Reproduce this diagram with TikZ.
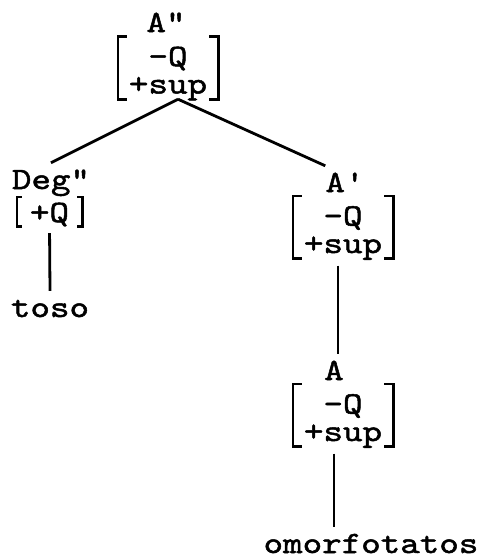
\documentclass[tikz,border=0pt]{standalone}
\usepackage{fontspec}
\setmonofont{lmmono10-regular.otf}[FakeStretch=1.2,FakeBold=1.6]

\tikzset{
  cat/.style={font=\ttfamily\fontsize{31}{27.5}\selectfont, inner sep=0pt, anchor=base, text height=26pt},
  feat/.style={cat, minimum width=100pt, text height=29.5pt, text depth=33pt},
  featsm/.style={cat, minimum width=65pt, text height=25pt, text depth=4pt},
  branch/.style={line width=2.8pt},
  brk/.style={line width=2.6pt}
}
% square brackets round a feature node
\newcommand{\sqbrk}[2][9pt]{
\draw[brk] ([xshift=#1]#2.north west) -- (#2.north west) -- (#2.south west) -- ([xshift=#1]#2.south west);
\draw[brk] ([xshift=-#1]#2.north east) -- (#2.north east) -- (#2.south east) -- ([xshift=-#1]#2.south east);
}

\begin{document}
\begin{tikzpicture}[x=1pt,y=-1pt]
\useasboundingbox (0,0) rectangle (479,557);
% top
\node[cat] (app) at (166,32) {A"};
\node[feat] (appf) at (168,66) {\begin{tabular}[t]{@{}c@{}}-Q\\+sup\end{tabular}};
\sqbrk{appf}
% left branch
\node[cat] (deg) at (51,189) {Deg"};
\node[featsm] (degf) at (49.5,222) {+Q};
\sqbrk[5pt]{degf}
\node[cat] (toso) at (50,317) {toso};
% right branch
\node[cat] (ap) at (345,192) {A'};
\node[feat] (apf) at (343,225.5) {\begin{tabular}[t]{@{}c@{}}-Q\\+sup\end{tabular}};
\sqbrk{apf}
\node[cat] (a) at (334,380) {A};
\node[feat] (af) at (343,413.5) {\begin{tabular}[t]{@{}c@{}}-Q\\+sup\end{tabular}};
\sqbrk{af}
\node[cat] (omorf) at (371,553) {omorfotatos};
% branches
\draw[branch] ([xshift=10pt]appf.south) -- (deg.north);
\draw[branch] ([xshift=10pt]appf.south) -- (ap.north west);
\draw[branch,shorten <=7pt] (degf.south) -- (toso.north);
\draw[branch,shorten <=7pt] ([xshift=-5pt]apf.south) -- ([xshift=4pt]a.north);
\draw[branch,shorten <=7pt] (af.south -| a.north) -- (omorf.north -| a.north);
\end{tikzpicture}
\end{document}
